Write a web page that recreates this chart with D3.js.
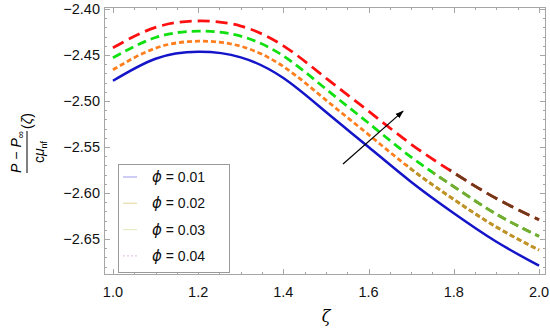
<!DOCTYPE html>
<html>
<head>
<meta charset="utf-8">
<script src="https://cdn.jsdelivr.net/npm/d3@7"></script>
<style>
  html, body { margin: 0; padding: 0; background: #fff; }
  svg { display: block; font-family: "Liberation Sans", Arial, sans-serif; }
</style>
</head>
<body>
<svg id="chart" width="550" height="328"></svg>
<script>
'use strict';

// ── data ────────────────────────────────────────────────
const zeta = [1.0, 1.1, 1.2, 1.3, 1.4, 1.5, 1.6, 1.7, 1.8, 1.9, 2.0];
const phiLabels = ['0.01', '0.02', '0.03', '0.04'];
const p001 = [-2.478, -2.454, -2.4465, -2.4525, -2.475, -2.512, -2.550, -2.588, -2.622, -2.653, -2.679];
const p002 = [-2.466, -2.4425, -2.435, -2.4405, -2.4625, -2.499, -2.5365, -2.574, -2.607, -2.637, -2.662];
const p003 = [-2.453, -2.431, -2.424, -2.4295, -2.451, -2.487, -2.524, -2.561, -2.593, -2.623, -2.647];
const p004 = [-2.442, -2.420, -2.413, -2.4185, -2.440, -2.475, -2.511, -2.547, -2.578, -2.606, -2.629];
const xTicks = [1.0, 1.2, 1.4, 1.6, 1.8, 2.0];
const yTicks = [-2.40, -2.45, -2.50, -2.55, -2.60, -2.65];
const arrowPts = [[1.54, -2.5685], [1.681, -2.511]];

// ── styles ──────────────────────────────────────────────
const series = [
  { values: p001, color: '#1414c8', dash: null, w: 2.5 },
  { values: p002, color: '#ff7f1e', tail: '#b8962a', dash: '5,3', w: 2.8, tailFrom: 1.69 },
  { values: p003, color: '#10e010', tail: '#7aa832', dash: '9,5', w: 2.8, tailFrom: 1.75 },
  { values: p004, color: '#ff1010', tail: '#6e3b1a', dash: '12,6', w: 2.8, tailFrom: 1.79, legendDash: '2,2' },
];
const legendSample = ['#b0b0f0', '#e8e0b0', '#e8ecc8', '#e8c8e8'];

const svg = d3.select('#chart');
const L = 104, R = 546, T = 7, B = 275;

const x = d3.scaleLinear().domain([0.979, 2.0164]).range([L, R]);
const y = d3.scaleLinear().domain([-2.3978, -2.6891]).range([T, B]);

const FRAME = '#a6a6a6';

// clip for the darker tails
const defs = svg.append('defs');
series.forEach((s, i) => {
  if (s.tailFrom == null) return;
  defs.append('clipPath').attr('id', 'tail' + i)
    .append('rect')
    .attr('x', x(s.tailFrom)).attr('y', T)
    .attr('width', R - x(s.tailFrom)).attr('height', B - T);
});
defs.append('marker')
  .attr('id', 'ah').attr('viewBox', '0 0 10 10')
  .attr('refX', 9).attr('refY', 5)
  .attr('markerWidth', 7).attr('markerHeight', 7)
  .attr('orient', 'auto')
  .append('path').attr('d', 'M0,1.5 L10,5 L0,8.5 Z').attr('fill', '#000');

// ── frame + ticks ───────────────────────────────────────
const axisG = svg.append('g');
axisG.append('rect')
  .attr('x', L + 0.5).attr('y', T + 0.5)
  .attr('width', R - L - 1).attr('height', B - T - 1)
  .attr('fill', 'none').attr('stroke', FRAME).attr('stroke-width', 1);

const xMinor = d3.range(1.0, 2.0001, 0.05).filter(v => !xTicks.some(t => Math.abs(t - v) < 1e-6));
const yMinor = d3.range(-2.40, -2.6891, -0.01).filter(v => !yTicks.some(t => Math.abs(t - v) < 1e-6));

function xtick(v, len) {
  const px = Math.round(x(v)) + 0.5;
  axisG.append('line').attr('x1', px).attr('x2', px).attr('y1', B).attr('y2', B - len).attr('stroke', FRAME);
  axisG.append('line').attr('x1', px).attr('x2', px).attr('y1', T).attr('y2', T + len).attr('stroke', FRAME);
}
function ytick(v, len) {
  const py = Math.round(y(v)) + 0.5;
  axisG.append('line').attr('x1', L).attr('x2', L + len).attr('y1', py).attr('y2', py).attr('stroke', FRAME);
  axisG.append('line').attr('x1', R).attr('x2', R - len).attr('y1', py).attr('y2', py).attr('stroke', FRAME);
}
xTicks.forEach(v => xtick(v, 6));
xMinor.forEach(v => xtick(v, 3));
yTicks.forEach(v => ytick(v, 6));
yMinor.forEach(v => ytick(v, 3));

axisG.selectAll('.xl').data(xTicks).join('text')
  .attr('x', d => x(d)).attr('y', 297)
  .attr('text-anchor', 'middle').attr('font-size', 14.5).attr('fill', '#111')
  .text(d => d3.format('.1f')(d));

axisG.selectAll('.yl').data(yTicks).join('text')
  .attr('x', 100).attr('y', d => y(d) + 5)
  .attr('text-anchor', 'end').attr('font-size', 14.5).attr('fill', '#111')
  .text(d => d3.format('.2f')(d).replace('-', '\u2212'));

// ── curves ──────────────────────────────────────────────
const line = d3.line().x(d => x(d[0])).y(d => y(d[1])).curve(d3.curveNatural);

series.forEach((s, i) => {
  const pts = zeta.map((z, k) => [z, s.values[k]]);
  svg.append('path')
    .attr('d', line(pts))
    .attr('fill', 'none')
    .attr('stroke', s.color)
    .attr('stroke-width', s.w)
    .attr('stroke-dasharray', s.dash);
  if (s.tailFrom != null) {
    svg.append('path')
      .attr('d', line(pts))
      .attr('clip-path', `url(#tail${i})`)
      .attr('fill', 'none')
      .attr('stroke', s.tail)
      .attr('stroke-width', s.w)
      .attr('stroke-dasharray', s.dash);
  }
});

// arrow
svg.append('line')
  .attr('x1', x(arrowPts[0][0])).attr('y1', y(arrowPts[0][1]))
  .attr('x2', x(arrowPts[1][0])).attr('y2', y(arrowPts[1][1]))
  .attr('stroke', '#000').attr('stroke-width', 1.2)
  .attr('marker-end', 'url(#ah)');

// ── legend ──────────────────────────────────────────────
const lg = svg.append('g');
lg.append('rect')
  .attr('x', 118.5).attr('y', 164.5).attr('width', 111).attr('height', 108)
  .attr('fill', '#fff').attr('stroke', '#9a9a9a');
phiLabels.forEach((lab, i) => {
  const ly = 177 + i * 26.3;
  lg.append('line')
    .attr('x1', 123).attr('x2', 137).attr('y1', ly).attr('y2', ly)
    .attr('stroke', legendSample[i]).attr('stroke-width', 1.3)
    .attr('stroke-dasharray', series[i].legendDash || null);
  const t = lg.append('text').attr('x', 152).attr('y', ly + 5)
    .attr('font-size', 14).attr('fill', '#111');
  t.append('tspan').attr('font-style', 'italic')
    .attr('font-family', '"DejaVu Sans", sans-serif').attr('font-size', 15).text('\u03d5');
  t.append('tspan').text(' = ' + lab);
});

// ── axis titles ─────────────────────────────────────────
svg.append('text')
  .attr('x', x(1.5)).attr('y', 322)
  .attr('text-anchor', 'middle').attr('font-size', 16)
  .attr('font-style', 'italic').attr('font-family', '"DejaVu Serif", serif')
  .text('\u03b6');

const yt = svg.append('g').attr('transform', 'translate(27,152) rotate(-90)');
yt.append('line').attr('x1', -21).attr('x2', 21).attr('y1', 0).attr('y2', 0)
  .attr('stroke', '#000').attr('stroke-width', 1);
const num = yt.append('text').attr('x', 0).attr('y', -6).attr('text-anchor', 'middle')
  .attr('font-size', 14).attr('font-style', 'italic');
num.append('tspan').text('P');
num.append('tspan').attr('font-style', 'normal').text(' \u2212 ');
num.append('tspan').text('P');
num.append('tspan').attr('font-size', 10).attr('font-style', 'normal').attr('dy', 3).text('\u221e');
const den = yt.append('text').attr('x', 0).attr('y', 17).attr('text-anchor', 'middle')
  .attr('font-size', 14);
den.append('tspan').text('c');
den.append('tspan').attr('font-style', 'italic').text('\u03bc');
den.append('tspan').attr('font-size', 9).attr('dy', 3).text('nf');
const arg = yt.append('text').attr('x', 23).attr('y', 5).attr('font-size', 14);
arg.append('tspan').text('(');
arg.append('tspan').attr('font-style', 'italic').text('\u03b6');
arg.append('tspan').text(')');
</script>
</body>
</html>
